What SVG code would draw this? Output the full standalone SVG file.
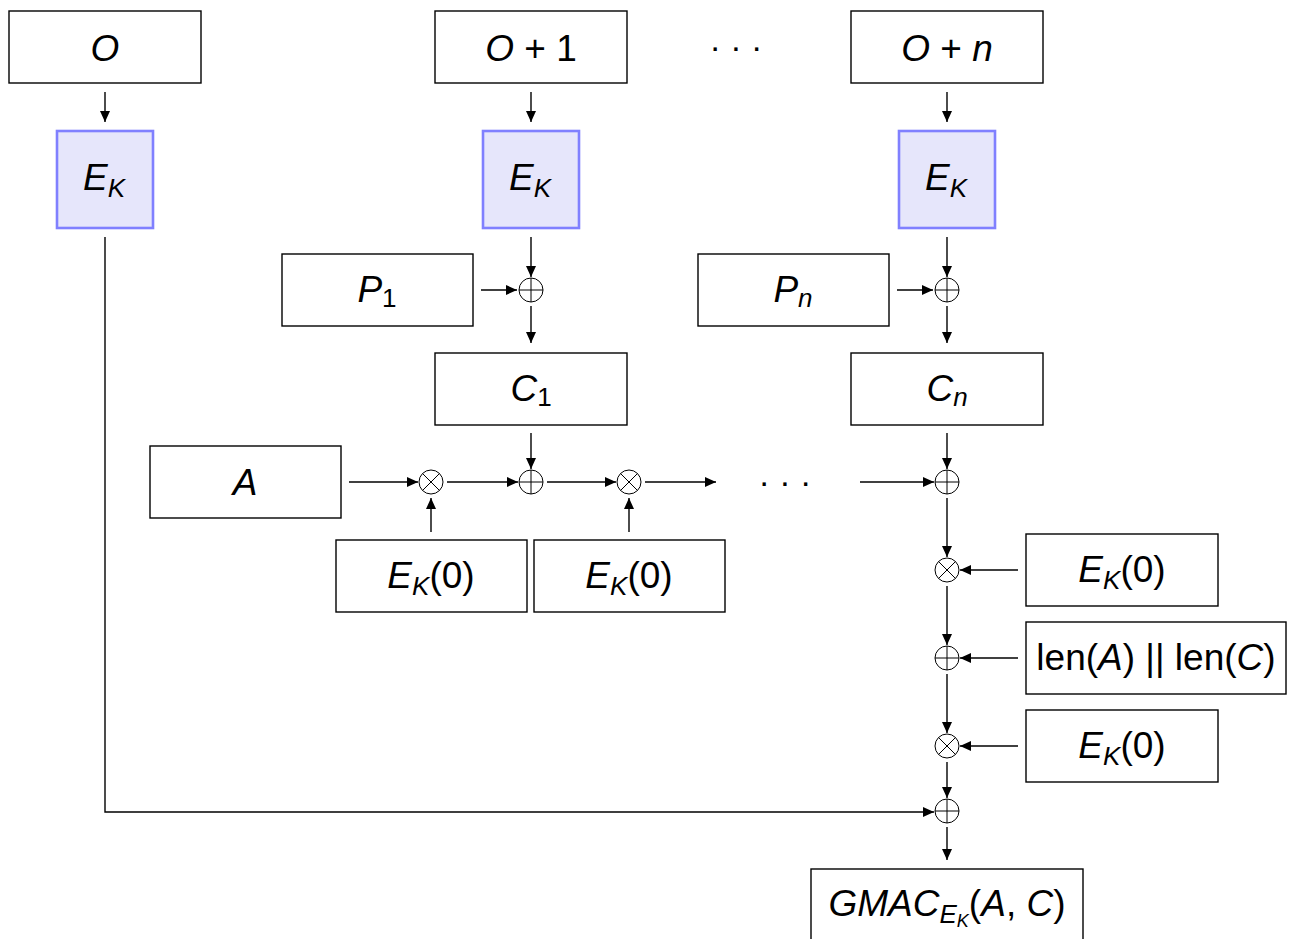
<svg xmlns="http://www.w3.org/2000/svg" xmlns:xlink="http://www.w3.org/1999/xlink" width="1295" height="939" viewBox="0 0 1295 939">
<style>
  .box { fill: #ffffff; stroke: #000000; stroke-width: 1.4; }
  .enc { fill: #e6e6fb; stroke: #8080ff; stroke-width: 2.6; }
  .t { font-family: "Liberation Sans", Arial, sans-serif; font-size: 37px; fill: #000; text-anchor: middle; }
  .i { font-style: italic; }
  .sub { font-size: 26px; }
  .dots { font-family: "Liberation Sans", Arial, sans-serif; font-size: 34px; fill: #000; text-anchor: middle; }
  .arr { fill: none; stroke: #000; stroke-width: 1.4; marker-end: url(#ah); }
  .op { fill: #fff; stroke: #000; stroke-width: 1; }
</style>
<defs>
  <marker id="ah" markerUnits="userSpaceOnUse" markerWidth="12" markerHeight="10" refX="11" refY="5" orient="auto">
    <path d="M0,0 L11,5 L0,10 Z" fill="#000"/>
  </marker>
  <symbol id="oplus" overflow="visible">
    <circle cx="0" cy="0" r="12" class="op"/>
    <path d="M-12,0 H12 M0,-12 V12" stroke="#000" stroke-width="1"/>
  </symbol>
  <symbol id="otimes" overflow="visible">
    <circle cx="0" cy="0" r="12" class="op"/>
    <path d="M-8.5,-8.5 L8.5,8.5 M-8.5,8.5 L8.5,-8.5" stroke="#000" stroke-width="1"/>
  </symbol>
</defs>

<g id="connectors">
  <path class="arr" d="M105,92 V122"/>
  <path class="arr" d="M531,92 V122"/>
  <path class="arr" d="M947,92 V122"/>
  <path class="arr" d="M105,237 V812 H934"/>
  <path class="arr" d="M531,237 V277"/>
  <path class="arr" d="M947,237 V277"/>
  <path class="arr" d="M481,290 H517"/>
  <path class="arr" d="M897,290 H933"/>
  <path class="arr" d="M531,306 V343"/>
  <path class="arr" d="M947,306 V343"/>
  <path class="arr" d="M531,433 V469"/>
  <path class="arr" d="M947,433 V469"/>
  <path class="arr" d="M349,482 H418"/>
  <path class="arr" d="M447,482 H518"/>
  <path class="arr" d="M547,482 H616"/>
  <path class="arr" d="M645,482 H716"/>
  <path class="arr" d="M860,482 H934"/>
  <path class="arr" d="M431,532 V498"/>
  <path class="arr" d="M629,532 V498"/>
  <path class="arr" d="M947,498 V557"/>
  <path class="arr" d="M1018,570 H960"/>
  <path class="arr" d="M947,586 V645"/>
  <path class="arr" d="M1018,658 H960"/>
  <path class="arr" d="M947,674 V733"/>
  <path class="arr" d="M1018,746 H960"/>
  <path class="arr" d="M947,762 V798"/>
  <path class="arr" d="M947,827 V860"/>
</g>

<g id="op-xor1"><use xlink:href="#oplus" x="531" y="290"/></g>
<g id="op-xorn"><use xlink:href="#oplus" x="947" y="290"/></g>
<g id="op-mul1"><use xlink:href="#otimes" x="431" y="482"/></g>
<g id="op-xor2"><use xlink:href="#oplus" x="531" y="482"/></g>
<g id="op-mul2"><use xlink:href="#otimes" x="629" y="482"/></g>
<g id="op-xor3"><use xlink:href="#oplus" x="947" y="482"/></g>
<g id="op-mul3"><use xlink:href="#otimes" x="947" y="570"/></g>
<g id="op-xor4"><use xlink:href="#oplus" x="947" y="658"/></g>
<g id="op-mul4"><use xlink:href="#otimes" x="947" y="746"/></g>
<g id="op-xor5"><use xlink:href="#oplus" x="947" y="811"/></g>

<g id="n-O">
  <rect class="box" x="9" y="11" width="192" height="72"/>
  <text class="t i" x="105" y="61">O</text>
</g>
<g id="n-O1">
  <rect class="box" x="435" y="11" width="192" height="72"/>
  <text class="t" x="531" y="61"><tspan class="i">O</tspan> + 1</text>
</g>
<g id="dots-top">
  <text class="dots" x="736" y="58">· · ·</text>
</g>
<g id="n-On">
  <rect class="box" x="851" y="11" width="192" height="72"/>
  <text class="t" x="947" y="61"><tspan class="i">O</tspan> + <tspan class="i">n</tspan></text>
</g>

<g id="n-EK0">
  <rect class="enc" x="57" y="131" width="96" height="97"/>
  <text class="t i" x="104" y="190">E<tspan class="sub" dy="7">K</tspan></text>
</g>
<g id="n-EK1">
  <rect class="enc" x="483" y="131" width="96" height="97"/>
  <text class="t i" x="530" y="190">E<tspan class="sub" dy="7">K</tspan></text>
</g>
<g id="n-EKn">
  <rect class="enc" x="899" y="131" width="96" height="97"/>
  <text class="t i" x="946" y="190">E<tspan class="sub" dy="7">K</tspan></text>
</g>

<g id="n-P1">
  <rect class="box" x="282" y="254" width="191" height="72"/>
  <text class="t" x="377" y="302"><tspan class="i">P</tspan><tspan class="sub" dy="5">1</tspan></text>
</g>
<g id="n-Pn">
  <rect class="box" x="698" y="254" width="191" height="72"/>
  <text class="t" x="793" y="302"><tspan class="i">P</tspan><tspan class="sub i" dy="5">n</tspan></text>
</g>

<g id="n-C1">
  <rect class="box" x="435" y="353" width="192" height="72"/>
  <text class="t" x="531" y="401"><tspan class="i">C</tspan><tspan class="sub" dy="5">1</tspan></text>
</g>
<g id="n-Cn">
  <rect class="box" x="851" y="353" width="192" height="72"/>
  <text class="t" x="947" y="401"><tspan class="i">C</tspan><tspan class="sub i" dy="5">n</tspan></text>
</g>

<g id="n-A">
  <rect class="box" x="150" y="446" width="191" height="72"/>
  <text class="t i" x="245" y="495">A</text>
</g>
<g id="dots-mid">
  <text class="dots" x="785" y="493">· · ·</text>
</g>

<g id="n-H1">
  <rect class="box" x="336" y="540" width="191" height="72"/>
  <text class="t" x="431" y="588"><tspan class="i">E</tspan><tspan class="sub i" dy="7">K</tspan><tspan dy="-7">(0)</tspan></text>
</g>
<g id="n-H2">
  <rect class="box" x="534" y="540" width="191" height="72"/>
  <text class="t" x="629" y="588"><tspan class="i">E</tspan><tspan class="sub i" dy="7">K</tspan><tspan dy="-7">(0)</tspan></text>
</g>
<g id="n-H3">
  <rect class="box" x="1026" y="534" width="192" height="72"/>
  <text class="t" x="1122" y="582"><tspan class="i">E</tspan><tspan class="sub i" dy="7">K</tspan><tspan dy="-7">(0)</tspan></text>
</g>
<g id="n-len">
  <rect class="box" x="1026" y="622" width="260" height="72"/>
  <text class="t" x="1156" y="670">len(<tspan class="i">A</tspan>) || len(<tspan class="i">C</tspan>)</text>
</g>
<g id="n-H4">
  <rect class="box" x="1026" y="710" width="192" height="72"/>
  <text class="t" x="1122" y="758"><tspan class="i">E</tspan><tspan class="sub i" dy="7">K</tspan><tspan dy="-7">(0)</tspan></text>
</g>

<g id="n-GMAC">
  <rect class="box" x="811" y="869" width="272" height="90"/>
  <text class="t" x="947" y="916"><tspan class="i">GMAC</tspan><tspan class="sub i" dy="7">E</tspan><tspan class="i" style="font-size:18px" dy="4">K</tspan><tspan dy="-11">(</tspan><tspan class="i">A</tspan>, <tspan class="i">C</tspan>)</text>
</g>
</svg>
